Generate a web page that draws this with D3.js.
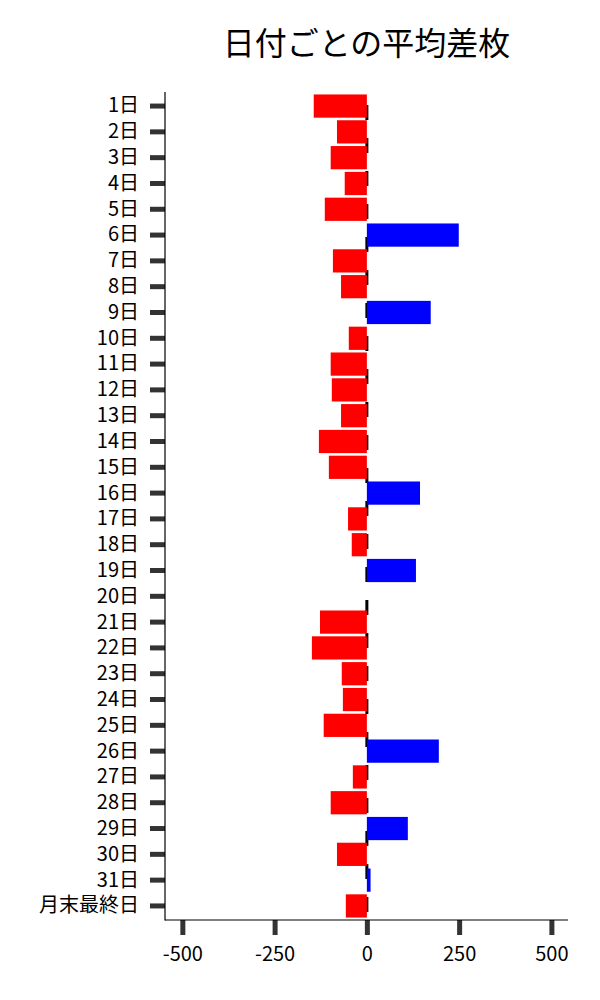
<!DOCTYPE html>
<html>
<head>
<meta charset="utf-8">
<script src="https://cdn.jsdelivr.net/npm/d3@7"></script>
<style>
  body { margin: 0; background: #fff; }
  text { font-family: "Noto Sans CJK JP", "Noto Sans", sans-serif; }
</style>
</head>
<body>
<div id="chart"></div>
<script>
const dayLabels = ["1日","2日","3日","4日","5日","6日","7日","8日","9日","10日",
  "11日","12日","13日","14日","15日","16日","17日","18日","19日","20日",
  "21日","22日","23日","24日","25日","26日","27日","28日","29日","30日",
  "31日","月末最終日"];
const avgDiff = [-144, -81, -98, -60, -114, 249, -92, -70, 173, -49,
  -98, -95, -70, -130, -103, 144, -51, -41, 133, 0,
  -127, -149, -68, -65, -117, 195, -38, -98, 111, -81,
  10, -57];
const xTicks = [-500, -250, 0, 250, 500];
const titleText = "日付ごとの平均差枚";

function init() {
    const width = 600, height = 1000;
    const plot = {left: 165, right: 568, top: 92, bottom: 920};

    const data = dayLabels.map((d, i) => ({day: d, value: avgDiff[i]}));

    const svg = d3.select('#chart')
        .append('svg')
        .attr('width', width)
        .attr('height', height);

    const xScale = d3.scaleLinear()
        .domain([-547, 545])
        .range([plot.left, plot.right]);

    const yScale = d3.scaleBand()
        .domain(dayLabels)
        .range([plot.top, plot.bottom])
        .paddingInner(0.1)
        .paddingOuter(0.095);

    // dashed zero line, behind the bars
    svg.append('line')
        .attr('x1', xScale(0))
        .attr('x2', xScale(0))
        .attr('y1', plot.top)
        .attr('y2', plot.bottom)
        .attr('stroke', '#000')
        .attr('stroke-width', 3)
        .attr('stroke-dasharray', '15,18')
        .attr('stroke-dashoffset', 20);

    // bars
    svg.selectAll('.bar')
        .data(data)
        .join('rect')
        .attr('class', 'bar')
        .attr('x', d => xScale(Math.min(0, d.value)))
        .attr('width', d => Math.abs(xScale(d.value) - xScale(0)))
        .attr('y', d => yScale(d.day))
        .attr('height', yScale.bandwidth())
        .attr('fill', d => d.value >= 0 ? '#0000ff' : '#ff0000');

    // y axis
    const yAxis = d3.axisLeft(yScale).tickSize(15).tickSizeOuter(0).tickPadding(11);
    const gy = svg.append('g')
        .attr('transform', `translate(${plot.left},0)`)
        .call(yAxis);
    gy.select('.domain').remove();
    gy.selectAll('.tick line').attr('stroke', '#333').attr('stroke-width', 5);
    gy.selectAll('.tick text')
        .attr('fill', '#000')
        .style('font-size', '20px');

    // x axis
    const xAxis = d3.axisBottom(xScale).tickValues(xTicks).tickSize(15).tickSizeOuter(0).tickPadding(12);
    const gx = svg.append('g')
        .attr('transform', `translate(0,${plot.bottom})`)
        .call(xAxis);
    gx.select('.domain').remove();
    gx.selectAll('.tick line').attr('stroke', '#333').attr('stroke-width', 5);
    gx.selectAll('.tick text')
        .attr('fill', '#000')
        .style('font-size', '20px')
        .text(d => d3.format('d')(d).replace('−', '-'));

    // spines (left and bottom only)
    svg.append('line')
        .attr('x1', plot.left).attr('x2', plot.left)
        .attr('y1', plot.top).attr('y2', plot.bottom + 0.5)
        .attr('stroke', '#000').attr('stroke-width', 1.2);
    svg.append('line')
        .attr('x1', plot.left).attr('x2', plot.right)
        .attr('y1', plot.bottom).attr('y2', plot.bottom)
        .attr('stroke', '#000').attr('stroke-width', 1.2);

    // title
    svg.append('text')
        .attr('x', (plot.left + plot.right) / 2)
        .attr('y', 55)
        .attr('text-anchor', 'middle')
        .style('font-size', '32px')
        .attr('fill', '#000')
        .text(titleText);
}

window.addEventListener('load', init);
</script>
</body>
</html>
